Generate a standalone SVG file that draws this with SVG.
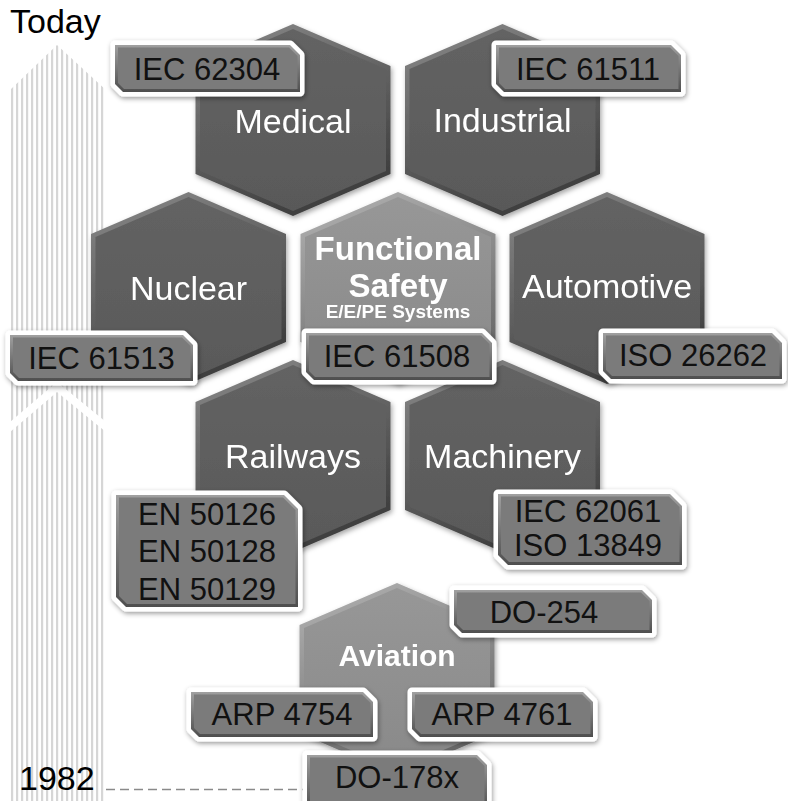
<svg xmlns="http://www.w3.org/2000/svg" width="788" height="801" viewBox="0 0 788 801">
<defs>
<pattern id="stripes" x="11" y="0" width="5" height="10" patternUnits="userSpaceOnUse">
<rect x="0" y="0" width="2.2" height="10" fill="#d6d6d6"/>
</pattern>
<linearGradient id="darkBevel" x1="0" y1="0" x2="0.4" y2="1">
<stop offset="0" stop-color="#8a8a8a"/>
<stop offset="1" stop-color="#404040"/>
</linearGradient>
<linearGradient id="darkFace" x1="0" y1="0" x2="0" y2="1">
<stop offset="0" stop-color="#636363"/>
<stop offset="1" stop-color="#595959"/>
</linearGradient>
<linearGradient id="lightBevel" x1="0" y1="0" x2="0.4" y2="1">
<stop offset="0" stop-color="#b4b4b4"/>
<stop offset="1" stop-color="#6a6a6a"/>
</linearGradient>
<linearGradient id="lightFace" x1="0" y1="0" x2="0" y2="1">
<stop offset="0" stop-color="#979797"/>
<stop offset="1" stop-color="#898989"/>
</linearGradient>
<linearGradient id="boxBevel" x1="0" y1="0" x2="0" y2="1">
<stop offset="0" stop-color="#a0a0a0"/>
<stop offset="1" stop-color="#4e4e4e"/>
</linearGradient>
<filter id="sh" x="-15%" y="-15%" width="135%" height="140%">
<feDropShadow dx="1.5" dy="2.5" stdDeviation="2.5" flood-color="#000" flood-opacity="0.35"/>
</filter>
<filter id="bsh" x="-15%" y="-25%" width="135%" height="160%">
<feDropShadow dx="1" dy="2" stdDeviation="2.5" flood-color="#000" flood-opacity="0.4"/>
</filter>
<polygon id="hexOuter" points="0,-96 97.5,-54 97.5,54 0,96 -97.5,54 -97.5,-54"/>
<polygon id="hexInner" points="0,-91 93,-51 93,51 0,91 -93,51 -93,-51"/>
</defs>
<style>
.dark .o { fill: url(#darkBevel); }
.dark .i { fill: url(#darkFace); }
.light .o { fill: url(#lightBevel); }
.light .i { fill: url(#lightFace); }
.hex { filter: url(#sh); }
.ht { font-family: "Liberation Sans", Arial, sans-serif; font-size: 34px; fill: #ffffff; text-anchor: middle; }
.hb { font-family: "Liberation Sans", Arial, sans-serif; font-weight: bold; fill: #ffffff; text-anchor: middle; }
.bw { fill: #ffffff; stroke: #ffffff; stroke-width: 9; stroke-linejoin: round; filter: url(#bsh); }
.bb { fill: url(#boxBevel); }
.bf { fill: #7b7b7b; }
.lt { font-family: "Liberation Sans", Arial, sans-serif; font-size: 31px; fill: #111111; text-anchor: middle; }
.tl { font-family: "Liberation Sans", Arial, sans-serif; font-size: 34px; fill: #000000; }
</style>

<g id="timeline">
<polygon points="57,45 106,90 106,422 57,382 10,422 10,90" fill="url(#stripes)"/>
<polygon points="57,392 106,432 106,801 10,801 10,432" fill="url(#stripes)"/>
<text class="tl" x="10" y="33">Today</text>
<text class="tl" x="19" y="790">1982</text>
</g>

<g id="connectors">
<line x1="106" y1="789.5" x2="304" y2="789.5" stroke="#8a8a8a" stroke-width="1.5" stroke-dasharray="9,5"/>
</g>

<g id="hex-medical" class="hex dark" transform="translate(293,120)">
<use href="#hexOuter" class="o"/><use href="#hexInner" class="i"/>
<text class="ht" x="0" y="13">Medical</text>
</g>
<g id="hex-industrial" class="hex dark" transform="translate(502.5,120)">
<use href="#hexOuter" class="o"/><use href="#hexInner" class="i"/>
<text class="ht" x="0" y="12">Industrial</text>
</g>
<g id="hex-nuclear" class="hex dark" transform="translate(188.5,288)">
<use href="#hexOuter" class="o"/><use href="#hexInner" class="i"/>
<text class="ht" x="0" y="12">Nuclear</text>
</g>
<g id="hex-functional-safety" class="hex light" transform="translate(398,288)">
<use href="#hexOuter" class="o"/><use href="#hexInner" class="i"/>
<text class="hb" x="0" y="-28" font-size="33">Functional</text>
<text class="hb" x="0" y="9" font-size="33">Safety</text>
<text class="hb" x="0" y="30" font-size="19">E/E/PE Systems</text>
</g>
<g id="hex-automotive" class="hex dark" transform="translate(607,288)">
<use href="#hexOuter" class="o"/><use href="#hexInner" class="i"/>
<text class="ht" x="0" y="10">Automotive</text>
</g>
<g id="hex-railways" class="hex dark" transform="translate(293,456)">
<use href="#hexOuter" class="o"/><use href="#hexInner" class="i"/>
<text class="ht" x="0" y="12">Railways</text>
</g>
<g id="hex-machinery" class="hex dark" transform="translate(502.5,456)">
<use href="#hexOuter" class="o"/><use href="#hexInner" class="i"/>
<text class="ht" x="0" y="12">Machinery</text>
</g>
<g id="hex-aviation" class="hex light" transform="translate(397,679)">
<use href="#hexOuter" class="o"/><use href="#hexInner" class="i"/>
<text class="hb" x="0" y="-13" font-size="30">Aviation</text>
</g>

<g id="box-iec62304">
<polygon class="bw" points="115,45 290,45 300,55 300,92 123,92 115,84"/>
<polygon class="bb" points="115,45 290,45 300,55 300,92 123,92 115,84"/>
<polygon class="bf" points="118,47.5 289,47.5 297.5,56 297.5,89 124,89 118,83"/>
<text class="lt" x="207" y="80">IEC 62304</text>
</g>
<g id="box-iec61511">
<polygon class="bw" points="496,45 671,45 681,55 681,92 504,92 496,84"/>
<polygon class="bb" points="496,45 671,45 681,55 681,92 504,92 496,84"/>
<polygon class="bf" points="499,47.5 670,47.5 678.5,56 678.5,89 505,89 499,83"/>
<text class="lt" x="588" y="80">IEC 61511</text>
</g>
<g id="box-iec61513">
<polygon class="bw" points="10,335 183,335 193,345 193,381 18,381 10,373"/>
<polygon class="bb" points="10,335 183,335 193,345 193,381 18,381 10,373"/>
<polygon class="bf" points="13,337.5 182,337.5 190.5,346 190.5,378 19,378 13,372"/>
<text class="lt" x="101.5" y="369">IEC 61513</text>
</g>
<g id="box-iec61508">
<polygon class="bw" points="306,333 482,333 492,343 492,380 314,380 306,372"/>
<polygon class="bb" points="306,333 482,333 492,343 492,380 314,380 306,372"/>
<polygon class="bf" points="309,335.5 481,335.5 489.5,344 489.5,377 315,377 309,371"/>
<text class="lt" x="397" y="367">IEC 61508</text>
</g>
<g id="box-iso26262">
<polygon class="bw" points="603,333 772,333 782,343 782,379 611,379 603,371"/>
<polygon class="bb" points="603,333 772,333 782,343 782,379 611,379 603,371"/>
<polygon class="bf" points="606,335.5 771,335.5 779.5,344 779.5,376 612,376 606,370"/>
<text class="lt" x="693" y="366">ISO 26262</text>
</g>
<g id="box-en501xx">
<polygon class="bw" points="116,495 284,495 298,509 298,607 126,607 116,597"/>
<polygon class="bb" points="116,495 284,495 298,509 298,607 126,607 116,597"/>
<polygon class="bf" points="119,497.5 283,497.5 295.5,510 295.5,604 127,604 119,596"/>
<text class="lt" x="207" y="525">EN 50126</text>
<text class="lt" x="207" y="562">EN 50128</text>
<text class="lt" x="207" y="600">EN 50129</text>
</g>
<g id="box-iec62061-iso13849">
<polygon class="bw" points="498,494 670,494 682,506 682,565 508,565 498,555"/>
<polygon class="bb" points="498,494 670,494 682,506 682,565 508,565 498,555"/>
<polygon class="bf" points="501,496.5 669,496.5 679.5,507 679.5,562 509,562 501,554"/>
<text class="lt" x="588" y="522">IEC 62061</text>
<text class="lt" x="588" y="556">ISO 13849</text>
</g>
<g id="box-do254">
<polygon class="bw" points="454,590 642,590 652,600 652,633 462,633 454,625"/>
<polygon class="bb" points="454,590 642,590 652,600 652,633 462,633 454,625"/>
<polygon class="bf" points="457,592.5 641,592.5 649.5,601 649.5,630 463,630 457,624"/>
<text class="lt" x="544" y="623">DO-254</text>
</g>
<g id="box-arp4754">
<polygon class="bw" points="191,692 363,692 373,702 373,737 199,737 191,729"/>
<polygon class="bb" points="191,692 363,692 373,702 373,737 199,737 191,729"/>
<polygon class="bf" points="194,694.5 362,694.5 370.5,703 370.5,734 200,734 194,728"/>
<text class="lt" x="282" y="725">ARP 4754</text>
</g>
<g id="box-arp4761">
<polygon class="bw" points="412,692 583,692 593,702 593,737 420,737 412,729"/>
<polygon class="bb" points="412,692 583,692 593,702 593,737 420,737 412,729"/>
<polygon class="bf" points="415,694.5 582,694.5 590.5,703 590.5,734 421,734 415,728"/>
<text class="lt" x="502" y="725">ARP 4761</text>
</g>
<g id="box-do178x">
<polygon class="bw" points="307,755 477,755 487,765 487,810 315,810 307,802"/>
<polygon class="bb" points="307,755 477,755 487,765 487,810 315,810 307,802"/>
<polygon class="bf" points="310,757.5 476,757.5 484.5,766 484.5,807 316,807 310,801"/>
<text class="lt" x="397" y="788">DO-178x</text>
</g>
</svg>
